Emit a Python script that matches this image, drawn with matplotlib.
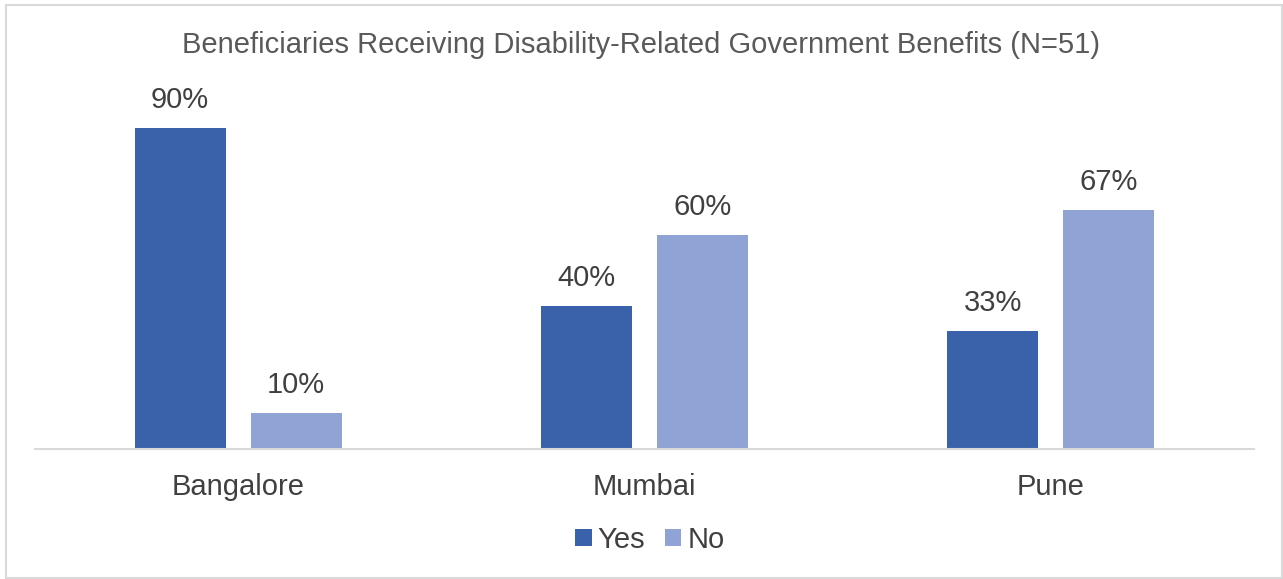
import matplotlib.pyplot as plt
import numpy as np
from matplotlib.patches import Rectangle

cities = ["Bangalore", "Mumbai", "Pune"]
yes_vals = [0.90, 0.40, 0.33]
no_vals = [0.10, 0.60, 0.67]
series_names = ["Yes", "No"]
title = "Beneficiaries Receiving Disability-Related Government Benefits (N=51)"

plt.rcParams['font.family'] = ['Liberation Sans', 'DejaVu Sans']

W, H = 1283, 579
fig = plt.figure(figsize=(W / 100, H / 100), dpi=100)
ax = fig.add_axes([35 / W, 1 - 449 / H, (1254 - 35) / W, (449 - 92) / H])

x = np.arange(len(cities))
width = 0.224
off = 0.143
b1 = ax.bar(x - off, yes_vals, width, color="#3A62AA", label=series_names[0])
b2 = ax.bar(x + off, no_vals, width, color="#8FA3D4", label=series_names[1])

# value labels above each bar
for bars, vals in [(b1, yes_vals), (b2, no_vals)]:
    for rect, v in zip(bars, vals):
        ax.annotate(f"{v:.0%}", (rect.get_x() + rect.get_width() / 2, v),
                    xytext=(0, 10), textcoords="offset points",
                    ha="center", va="bottom", fontsize=21, color="#404040")

ax.set_xlim(-0.5, 2.5)
ax.set_ylim(0, 1)
ax.set_yticks([])
ax.set_xticks(x)
ax.set_xticklabels(cities, fontsize=21, color="#404040")
ax.tick_params(axis="x", length=0, pad=17)
for s in ["top", "right", "left"]:
    ax.spines[s].set_visible(False)
ax.spines["bottom"].set_color("#D9D9D9")
ax.spines["bottom"].set_linewidth(1.5)

fig.text(0.5, 1 - 45 / H, title, ha="center", va="center",
         fontsize=21, color="#595959")

ax.legend(loc="center", bbox_to_anchor=(650 / W, 1 - 540 / H), bbox_transform=fig.transFigure,
          ncol=2, frameon=False, fontsize=21, handlelength=0.55, handleheight=0.55,
          handletextpad=0.2, columnspacing=0.7, labelcolor="#404040")

fig.patches.append(Rectangle((6 / W, 1 / H), (W - 7) / W, (H - 6) / H,
                             transform=fig.transFigure, fill=False,
                             edgecolor="#D9D9D9", linewidth=1.5))

fig.savefig("out.png", dpi=100)
